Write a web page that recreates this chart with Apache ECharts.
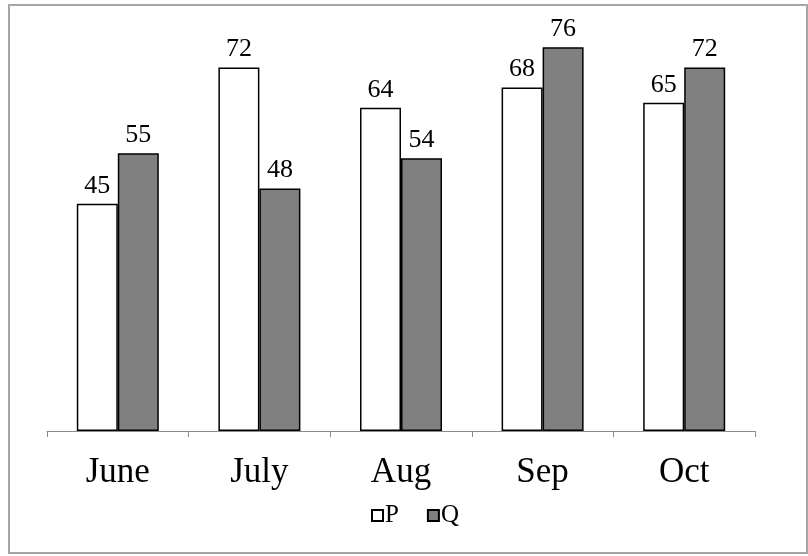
<!DOCTYPE html>
<html><head><meta charset="utf-8">
<script src="https://cdn.jsdelivr.net/npm/echarts@6/dist/echarts.min.js"></script>
<style>html,body{margin:0;padding:0;background:#fff}#c{width:808px;height:556px}</style>
</head><body><div id="c"></div>
<script>
const categories = ['June', 'July', 'Aug', 'Sep', 'Oct'];
const seriesP = [45, 72, 64, 68, 65];
const seriesQ = [55, 48, 54, 76, 72];
const FONT = '"Liberation Serif", "Times New Roman", serif';
const chart = echarts.init(document.getElementById('c'), null, {renderer: 'canvas'});
chart.setOption({
  animation: false,
  backgroundColor: '#fff',
  graphic: [{
    type: 'rect', shape: {x: 9, y: 5, width: 798, height: 548},
    style: {fill: 'none', stroke: '#a6a6a6', lineWidth: 2}, silent: true
  }],
  grid: {left: 47, right: 53, top: 27, bottom: 125},
  legend: {
    data: ['P', 'Q'], left: 366, top: 498, itemWidth: 11, itemHeight: 11, itemGap: 28,
    icon: 'rect',
    textStyle: {fontFamily: FONT, fontSize: 25, color: '#000', padding: [0, 0, 0, -3]}
  },
  xAxis: {
    type: 'category', data: categories,
    axisLine: {lineStyle: {color: '#8c8c8c', width: 1}},
    axisTick: {show: true, length: 6, lineStyle: {color: '#8c8c8c'}},
    axisLabel: {fontFamily: FONT, fontSize: 35, color: '#000', margin: 24}
  },
  yAxis: {type: 'value', min: 0, max: 80, show: false, splitLine: {show: false}},
  series: [
    {name: 'P', type: 'bar', data: seriesP, barWidth: 41, barGap: '0%',
     itemStyle: {color: '#ffffff', borderColor: '#000', borderWidth: 1.5},
     label: {show: true, position: 'top', distance: 5, fontFamily: FONT, fontSize: 26, color: '#000'}},
    {name: 'Q', type: 'bar', data: seriesQ, barWidth: 41, barGap: '0%',
     itemStyle: {color: '#808080', borderColor: '#000', borderWidth: 1.5},
     label: {show: true, position: 'top', distance: 5, fontFamily: FONT, fontSize: 26, color: '#000'}}
  ]
});
</script></body></html>
